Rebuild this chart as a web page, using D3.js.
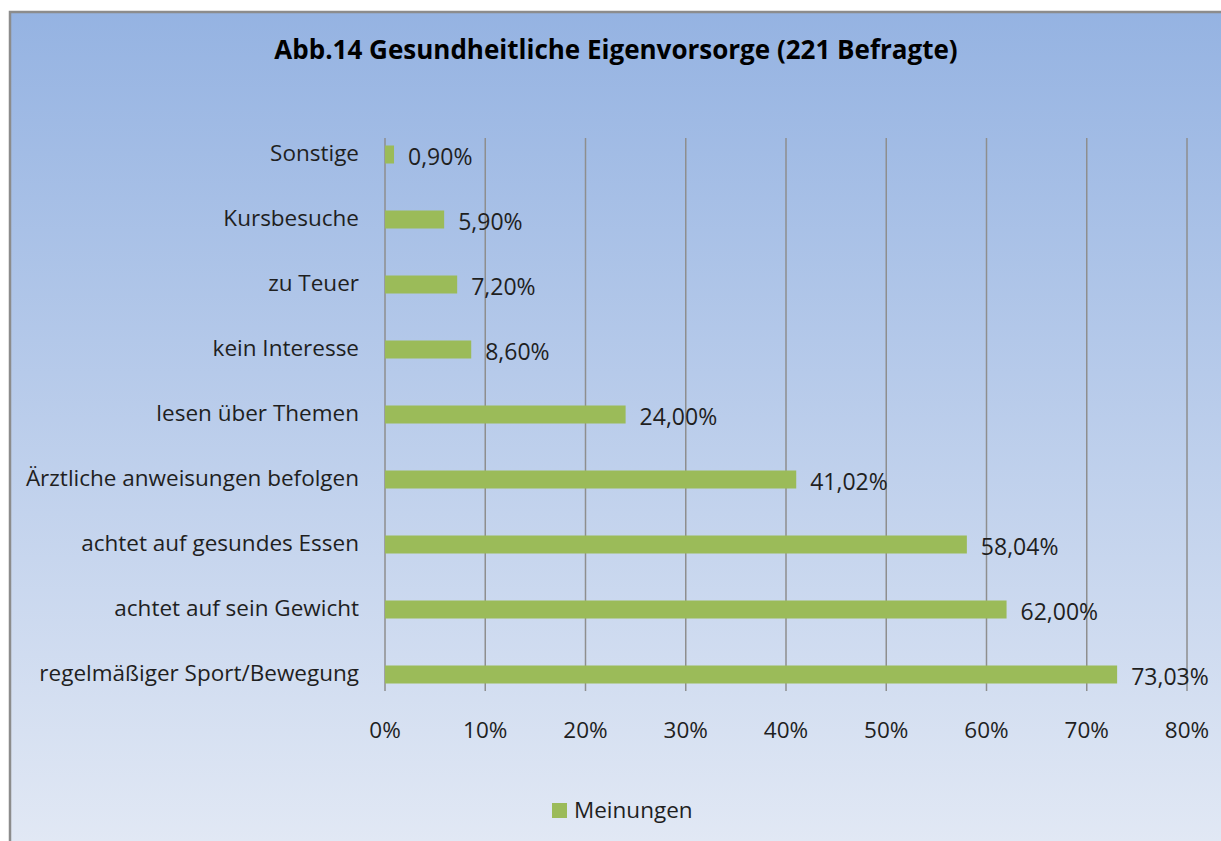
<!DOCTYPE html>
<html>
<head>
<meta charset="utf-8">
<script src="https://cdn.jsdelivr.net/npm/d3@7"></script>
<style>
  html, body { margin: 0; padding: 0; background: #ffffff; }
  svg { display: block; }
  text { font-family: "Open Sans", "Noto Sans", sans-serif; fill: #1f1f1f; }
</style>
</head>
<body>
<svg id="chart"></svg>
<script>
// data
var categories = [
  "Sonstige",
  "Kursbesuche",
  "zu Teuer",
  "kein Interesse",
  "lesen über Themen",
  "Ärztliche anweisungen befolgen",
  "achtet auf gesundes Essen",
  "achtet auf sein Gewicht",
  "regelmäßiger Sport/Bewegung"
];
var values = [0.9, 5.9, 7.2, 8.6, 24.0, 41.02, 58.04, 62.0, 73.03];
var valueLabels = ["0,90%", "5,90%", "7,20%", "8,60%", "24,00%", "41,02%", "58,04%", "62,00%", "73,03%"];
var tickValues = [0, 10, 20, 30, 40, 50, 60, 70, 80];
var seriesName = "Meinungen";
var title = "Abb.14 Gesundheitliche Eigenvorsorge (221 Befragte)";

var W = 1221, H = 841;
var svg = d3.select("#chart").attr("width", W).attr("height", H);

// background gradient
var defs = svg.append("defs");
var grad = defs.append("linearGradient")
  .attr("id", "bg").attr("x1", 0).attr("y1", 0).attr("x2", 0).attr("y2", 1);
grad.append("stop").attr("offset", "0%").attr("stop-color", "#95b3e2");
grad.append("stop").attr("offset", "100%").attr("stop-color", "#e4eaf5");

svg.append("rect")
  .attr("x", 10).attr("y", 12)
  .attr("width", W + 20).attr("height", H + 20)
  .attr("fill", "url(#bg)")
  .attr("stroke", "#8c8c8c")
  .attr("stroke-width", 2.5);

// scales
var x = d3.scaleLinear().domain([0, 80]).range([385, 1187]);
var y = d3.scaleBand().domain(categories).range([122, 707]);
var barH = 18;
var gridTop = 138, gridBottom = 691;

// title
svg.append("text")
  .attr("x", 616).attr("y", 59)
  .attr("text-anchor", "middle")
  .style("font-weight", "bold")
  .style("font-size", "26px")
  .style("fill", "#000")
  .text(title);

// gridlines
svg.append("g").selectAll("line")
  .data(tickValues)
  .join("line")
  .attr("x1", d => x(d)).attr("x2", d => x(d))
  .attr("y1", gridTop).attr("y2", gridBottom)
  .attr("stroke", "#8e8e8e")
  .attr("stroke-width", 1.5);

// x axis labels
svg.append("g").selectAll("text")
  .data(tickValues)
  .join("text")
  .attr("x", d => x(d)).attr("y", 738)
  .attr("text-anchor", "middle")
  .style("font-size", "22.5px")
  .text(d => d + "%");

// category labels
svg.append("g").selectAll("text")
  .data(categories)
  .join("text")
  .attr("x", 359)
  .attr("y", d => y(d) + y.bandwidth() / 2)
  .attr("dy", "0.3em")
  .attr("text-anchor", "end")
  .style("font-size", "22.5px")
  .text(d => d);

// bars
svg.append("g").selectAll("rect")
  .data(values)
  .join("rect")
  .attr("x", x(0))
  .attr("y", (d, i) => y(categories[i]) + y.bandwidth() / 2 - barH / 2)
  .attr("width", d => x(d) - x(0))
  .attr("height", barH)
  .attr("fill", "#9bbb59");

// value labels
svg.append("g").selectAll("text")
  .data(values)
  .join("text")
  .attr("x", d => x(d) + 14)
  .attr("y", (d, i) => y(categories[i]) + y.bandwidth() / 2 + 2)
  .attr("dy", "0.35em")
  .style("font-size", "23px")
  .text((d, i) => valueLabels[i]);

// legend
var lg = svg.append("g").attr("transform", "translate(552,803)");
lg.append("rect").attr("width", 15).attr("height", 15).attr("fill", "#9bbb59");
lg.append("text").attr("x", 22).attr("y", 7.5).attr("dy", "0.35em")
  .style("font-size", "22.5px").text(seriesName);
</script>
</body>
</html>
